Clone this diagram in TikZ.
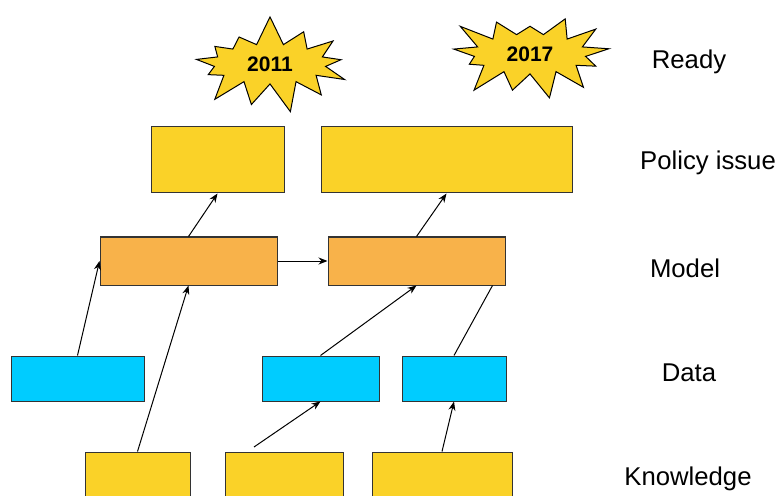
\documentclass[tikz,border=0pt]{standalone}
\usepackage{fontspec}
\setmainfont{Liberation Sans}
\usepackage{tikz}
\usetikzlibrary{positioning,arrows.meta,shapes.symbols}
\tikzset{>={Stealth[length=4.5pt,width=3.5pt]}}
\definecolor{cYellow}{RGB}{250,210,40}
\definecolor{cModel}{RGB}{248,178,74}
\definecolor{cData}{RGB}{0,204,255}

\begin{document}
\begin{tikzpicture}[
  x=0.5pt, y=-0.5pt,
  line width=0.5pt
]

% Stiler.
\tikzset{
  box/.style={rectangle, draw=black!80, inner sep=0pt},
  polbox/.style={box, fill=cYellow, minimum height=33pt},
  modbox/.style={box, fill=cModel, minimum width=88.5pt, minimum height=24pt},
  databox/.style={box, fill=cData, minimum height=22.5pt},
  knowbox/.style={box, fill=cYellow, minimum height=25pt},
  burst/.style={starburst, draw=black, fill=cYellow, starburst points=13,
    minimum width=86pt, minimum height=28pt, starburst point height=15pt,
    font=\bfseries\fontsize{10.5}{12}\selectfont},
  level/.style={anchor=base, font=\fontsize{12.85}{15}\selectfont}
}

% Ramme.
\useasboundingbox (0,0) rectangle (779,496);
\clip (0,0) rectangle (779,496);

% Ferdig.
\node (y2011) [burst, random starburst=7] at (270,64) {2011};
\node (y2017) [burst, random starburst=23] at (530,54) {2017};

% Politikk.
\node (pol1) [polbox, minimum width=66.5pt] at (217.5,160) {};
\node (pol2) [polbox, minimum width=125.5pt, right=18pt of pol1] {};

% Modell.
\node (mod1) [modbox] at (188.5,261) {};
\node (mod2) [modbox, right=25pt of mod1] {};

% Data.
\node (dat1) [databox, minimum width=66.5pt] at (77.5,378.5) {};
\node (dat2) [databox, minimum width=58.5pt] at (320.5,378.5) {};
\node (dat3) [databox, minimum width=52pt, right=11pt of dat2] {};

% Kunnskap.
\node (kno1) [knowbox, minimum width=52.5pt] at (137.5,477) {};
\node (kno2) [knowbox, minimum width=59pt, right=17pt of kno1] {};
\node (kno3) [knowbox, minimum width=70pt, right=14pt of kno2] {};
\coordinate (kno2top) at (254,447);

% Piler.
\draw[->] (dat1.north) -- (mod1.west);
\draw[->] (kno1.north) -- (mod1.south);
\draw[->] (mod1.east) -- (mod2.west);
\draw[->] (dat2.north) -- (mod2.south);
\draw (dat3.north) -- ([xshift=-6.5pt]mod2.south east);
\draw[->] (kno2top) -- (dat2.south);
\draw[->] (kno3.north) -- (dat3.south);
\draw[->] (mod1.north) -- (pol1.south);
\draw[->] (mod2.north) -- (pol2.south);

% Nivåer.
\node (lready)  [level] at (689,69)  {Ready};
\node (lpolicy) [level] at (708,170) {Policy issue};
\node (lmodel)  [level] at (685,277) {Model};
\node (ldata)   [level] at (689,381) {Data};
\node (lknow)   [level] at (688,485) {Knowledge};
\end{tikzpicture}
\end{document}
